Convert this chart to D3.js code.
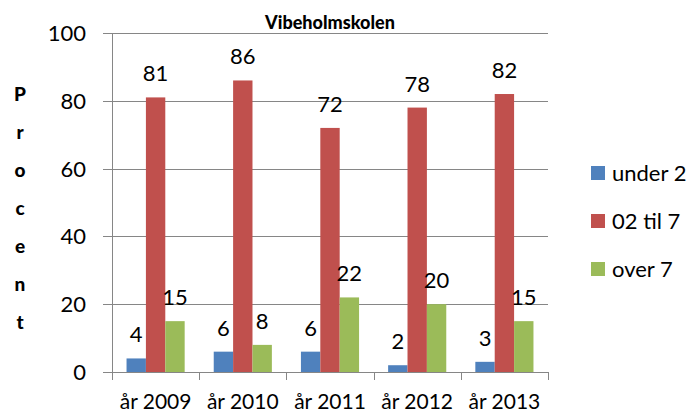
<!DOCTYPE html>
<html>
<head>
<meta charset="utf-8">
<script src="https://cdn.jsdelivr.net/npm/d3@7"></script>
<style>
  body { margin: 0; background: white; }
  svg { display: block; font-family: Lato, "Open Sans", sans-serif; }
</style>
</head>
<body>
<div id="chart"></div>
<script>
// chart data
const categories = ["år 2009", "år 2010", "år 2011", "år 2012", "år 2013"];
const seriesNames = ["under 2", "02 til 7", "over 7"];
const under2 = [4, 6, 6, 2, 3];
const til7 = [81, 86, 72, 78, 82];
const over7 = [15, 8, 22, 20, 15];
const yTicks = [0, 20, 40, 60, 80, 100];
const colors = ["#4F81BD", "#C0504D", "#9BBB59"];
const yLabel = "Procent";

const W = 698, H = 416;
const plot = { left: 112, right: 548, top: 33, bottom: 372 };

const svg = d3.select("#chart").append("svg")
    .attr("width", W)
    .attr("height", H);

const x = d3.scaleBand()
    .domain(categories)
    .range([plot.left, plot.right])
    .paddingInner(0)
    .paddingOuter(0);

// 3 bars + 150% gap split on both sides
const x1 = d3.scaleBand()
    .domain(seriesNames)
    .range([0, x.bandwidth()])
    .paddingInner(0)
    .paddingOuter(0.75);

const y = d3.scaleLinear()
    .domain([0, 100])
    .range([plot.bottom, plot.top]);

const grey = "#868686";

// gridlines + left ticks
svg.append("g")
    .selectAll("line")
    .data(yTicks)
    .join("line")
    .attr("x1", plot.left - 9)
    .attr("x2", plot.right)
    .attr("y1", d => Math.round(y(d)) + 0.5)
    .attr("y2", d => Math.round(y(d)) + 0.5)
    .attr("stroke", grey)
    .attr("stroke-width", 1);

// y tick labels
svg.append("g")
    .selectAll("text")
    .data(yTicks)
    .join("text")
    .attr("x", 86)
    .attr("y", d => y(d))
    .attr("dy", "0.36em")
    .attr("text-anchor", "end")
    .attr("font-size", "22px")
    .attr("fill", "#000")
    .text(d => d);

// y axis line
svg.append("line")
    .attr("x1", plot.left + 0.5)
    .attr("x2", plot.left + 0.5)
    .attr("y1", plot.top)
    .attr("y2", plot.bottom)
    .attr("stroke", grey);

// category ticks
const bounds = categories.map(c => x(c)).concat([plot.right]);
svg.append("g")
    .selectAll("line")
    .data(bounds)
    .join("line")
    .attr("x1", d => Math.round(d) + 0.5)
    .attr("x2", d => Math.round(d) + 0.5)
    .attr("y1", plot.bottom)
    .attr("y2", plot.bottom + 8)
    .attr("stroke", grey);

// x labels
svg.append("g")
    .selectAll("text")
    .data(categories)
    .join("text")
    .attr("x", d => x(d) + x.bandwidth() / 2)
    .attr("y", 409)
    .attr("text-anchor", "middle")
    .attr("font-size", "21px")
    .attr("fill", "#000")
    .text(d => d);

// bars
const rows = categories.map((c, i) => ({
    cat: c,
    vals: [under2[i], til7[i], over7[i]]
}));

const groups = svg.append("g")
    .selectAll("g")
    .data(rows)
    .join("g")
    .attr("transform", d => `translate(${x(d.cat)},0)`);

groups.selectAll("rect")
    .data(d => d.vals.map((v, j) => ({ v, name: seriesNames[j], j })))
    .join("rect")
    .attr("x", d => x1(d.name))
    .attr("width", x1.bandwidth())
    .attr("y", d => y(d.v))
    .attr("height", d => y(0) - y(d.v))
    .attr("fill", d => colors[d.j]);

groups.selectAll("text")
    .data(d => d.vals.map((v, j) => ({ v, name: seriesNames[j], j })))
    .join("text")
    .attr("x", d => x1(d.name) + x1.bandwidth() / 2)
    .attr("y", d => y(d.v) - 16)
    .attr("text-anchor", "middle")
    .attr("font-size", "22px")
    .attr("fill", "#000")
    .text(d => d.v);

// title
svg.append("text")
    .attr("x", (plot.left + plot.right) / 2)
    .attr("y", 29)
    .attr("text-anchor", "middle")
    .attr("font-size", "18px")
    .attr("font-weight", "900")
    .attr("fill", "#000")
    .text("Vibeholmskolen");

// y label, one letter per line
svg.append("g")
    .selectAll("text")
    .data(yLabel.split(""))
    .join("text")
    .attr("x", 20)
    .attr("y", (d, i) => 94 + i * 38)
    .attr("dy", "0.36em")
    .attr("text-anchor", "middle")
    .attr("font-size", "19px")
    .attr("font-weight", "900")
    .attr("fill", "#000")
    .text(d => d);

// legend
const legend = svg.append("g")
    .selectAll("g")
    .data(seriesNames)
    .join("g")
    .attr("transform", (d, i) => `translate(591, ${173 + i * 48})`);

legend.append("rect")
    .attr("x", 0)
    .attr("y", -7)
    .attr("width", 14)
    .attr("height", 14)
    .attr("fill", (d, i) => colors[i]);

legend.append("text")
    .attr("x", 21)
    .attr("y", 0)
    .attr("dy", "0.36em")
    .attr("font-size", "22px")
    .attr("fill", "#000")
    .text(d => d);
</script>
</body>
</html>
